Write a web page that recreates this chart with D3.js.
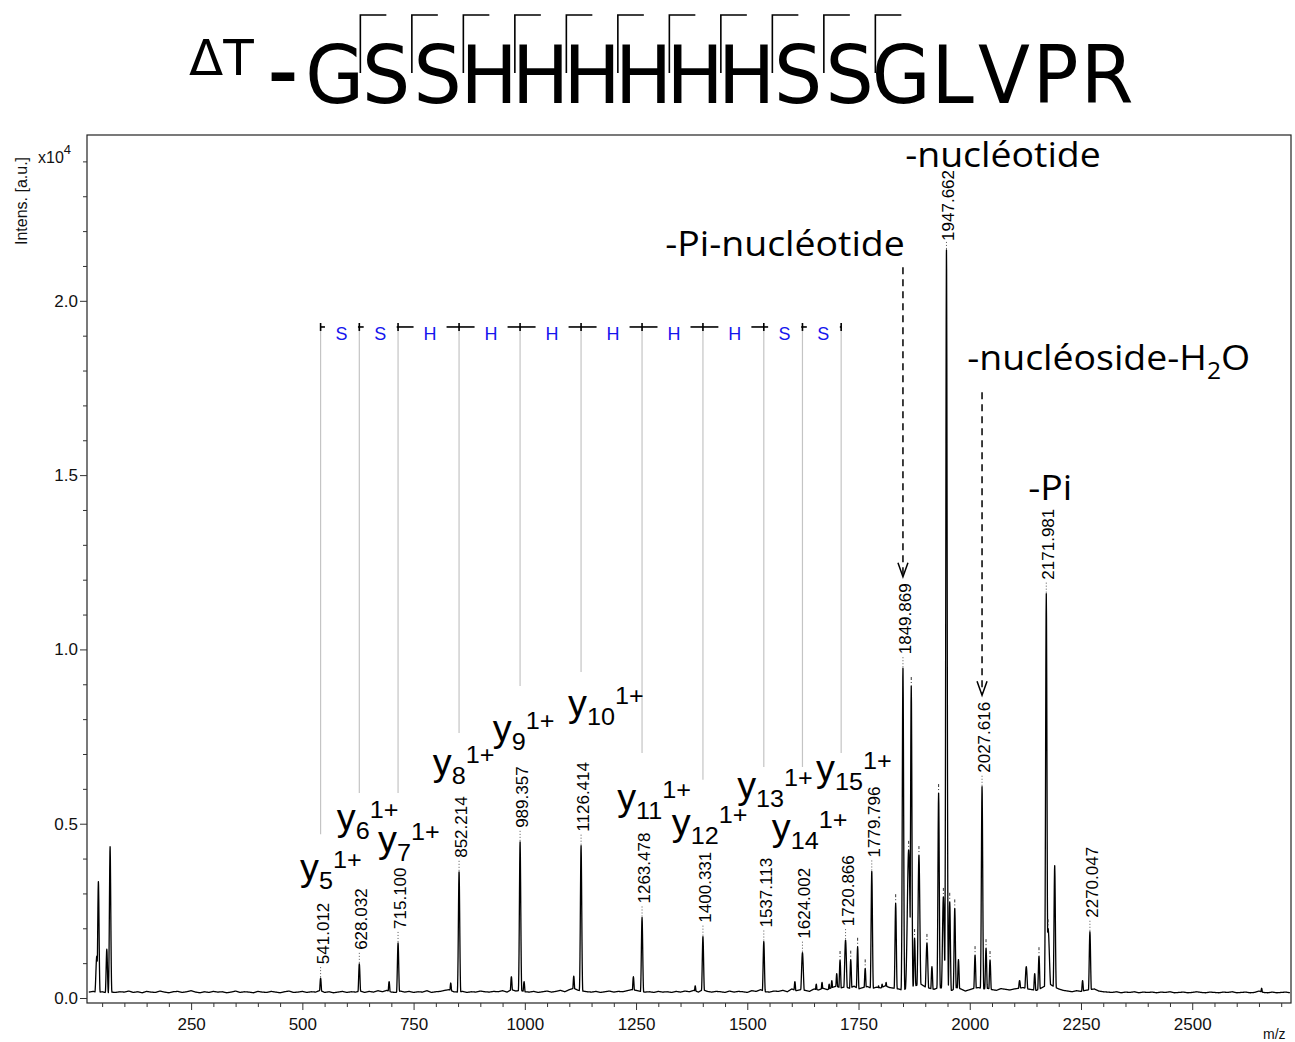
<!DOCTYPE html>
<html><head><meta charset="utf-8">
<script src="https://cdn.jsdelivr.net/npm/d3@7"></script>
<style>body{margin:0;background:#fff}svg{display:block}</style>
</head><body>
<svg id="chart" width="1295" height="1042"></svg>
<script>
// ---------------- DATA ----------------
const titleLetters = ["G","S","S","H","H","H","H","H","H","S","S","G","L","V","P","R"];
const titlePrefix = "\u0394T";
// peaks: [m/z, intensity (x10^4), optional width]
const peaks = [
  [38,0.12,2],[41.6,0.334],[60.5,0.14],[67.9,0.434],
  [541.012,0.057],[628.032,0.098],[695,0.047],[715.100,0.158],[833.5,0.043],[852.214,0.362],
  [969.8,0.061],[989.357,0.448],[998.3,0.047],[1110,0.063],[1126.414,0.437],[1244,0.061],
  [1263.478,0.231],[1383,0.035],[1400.331,0.176],[1537.113,0.162],[1607,0.047],[1624.002,0.13,2],
  [1655,0.04],[1668,0.045],[1684,0.04],[1690,0.05],[1701,0.07],[1708.5,0.109],[1720.866,0.166,2],
  [1732.5,0.11],[1748,0.147],[1765,0.085],[1779.796,0.363],[1795,0.035],[1803,0.04],[1812,0.045],
  [1833.5,0.272],[1849.869,0.946],[1862.7,0.425,3],[1868.5,0.895],[1876,0.172],[1885.8,0.41,2],
  [1903.8,0.158,2],[1915,0.09],[1930,0.588],[1940.7,0.29,2],[1947.662,2.146],[1955,0.276],
  [1966.3,0.257],[1974.6,0.11],[2011.9,0.123],[2027.616,0.606],[2036.6,0.143],[2045.6,0.109],
  [2112,0.05,2],[2127,0.09,2],[2146,0.07],[2155.6,0.12],[2171.981,1.16],[2176,0.2,3],[2190.9,0.38],
  [2253.6,0.05],[2270.047,0.19],[2656,0.028]
];
// baseline noise, x10^-3 (x10^4 a.u.), one value every 10 m/z starting at m/z 20
const baselineNoise = [
 17,19,16,18,15,17,16,18,17,20, 16,18,15,19,17,16,20,17,15,18, 19,16,18,21,17,15,18,16,19,17,
 18,15,17,20,16,18,17,15,19,17, 16,19,17,15,18,20,16,17,19,16, 18,17,22,16,18,15,17,19,16,18,
 17,20,16,19,17,21,18,22,17,16, 20,17,19,16,18,17,21,16,18,19, 22,24,18,17,19,16,18,17,20,18,
 17,19,18,21,17,24,20,22,18,17, 19,16,18,20,17,19,22,18,24,28, 22,20,18,17,19,16,18,20,17,19,
 18,21,24,22,19,17,18,16,19,17, 18,16,19,17,20,18,22,17,24,19, 17,19,18,16,20,17,19,18,16,21,
 19,24,18,17,20,19,22,18,26,21, 24,22,19,26,23,28,24,30,34,29, 32,28,34,26,30,33,27,31,29,35,
 30,28,26,22,30,34,36,40,32,28, 25,30,28,24,22,30,26,20,24,28, 30,26,28,24,22,27,25,23,26,28,
 30,26,24,22,28,35,40,32,26,22, 20,18,21,19,22,24,26,20,18,17, 16,18,15,17,16,18,15,17,16,17,
 15,17,16,18,15,16,17,15,16,18, 16,15,17,16,15,17,16,18,15,16, 17,15,16,20,16,15,17,15,16,17,15
];
const labeledMz = [541.012,628.032,715.100,852.214,989.357,1126.414,1263.478,1400.331,1537.113,
  1624.002,1720.866,1779.796,1849.869,1947.662,2027.616,2171.981,2270.047];
const pickedMarks = [1708.5,1732.5,1748,1765,1833.5,1862.7,1868.5,1876,1885.8,1903.8,1930,1940.7,
  1955,1966.3,2011.9,2036.6,2045.6,2155.6,2176];
// y-ion ladder
const ionNumbers = [5,6,7,8,9,10,11,12,13,14,15];
const ionMz = [541.012,628.032,715.100,852.214,989.357,1126.414,1263.478,1400.331,1537.113,1624.002,1711.0];
const residues = ["S","S","H","H","H","H","H","H","S","S"];
const ladderLevel = 1.925;
const guideEnd = [0.470,0.588,0.588,0.760,0.895,0.935,0.703,0.626,0.663,0.663,0.703];
const ionLabelMz = [494.9,577.4,670.3,793.2,928.1,1097.3,1207.5,1330.4,1477.2,1555.2,1654.7];
const ionLabelInt = [0.3385,0.4834,0.4188,0.6397,0.7372,0.809,0.539,0.4676,0.5737,0.4532,0.6225];
// loss annotations
const lossText = ["-nucl\u00e9otide","-Pi-nucl\u00e9otide","-nucl\u00e9oside-H","-Pi"];
const lossSub = ["","","2",""];
const lossTail = ["","","O",""];
const lossMz = [1854.8,1315.4,1994.2,2131.3];
const lossInt = [2.384,2.128,1.801,1.4286];
const lossArrowTo = [null,1849.869,2027.616,null];
// axes
const xMajor = [250,500,750,1000,1250,1500,1750,2000,2250,2500];
const yMajor = [0,0.5,1.0,1.5,2.0];

// ---------------- LAYOUT ----------------
const svg = d3.select("#chart");
const fL=87, fR=1291, fT=135, fB=1003;
const x = d3.scaleLinear().domain([16,2722]).range([fL,fR]);
const y = d3.scaleLinear().domain([-0.0143,2.4757]).range([fB,fT]);
const AX = "'Liberation Sans', Arial, sans-serif";
const ANN = "'Open Sans', 'Lato', sans-serif";

// title
const tg = svg.append("g");
const pitch = 51.5, c0 = 334.6, tBase = 103;
titleLetters.forEach((L,i)=>{
  tg.append("text").attr("transform",`translate(${c0+i*pitch},${tBase}) scale(0.95,1)`)
    .attr("text-anchor","middle").style("font-family","'DejaVu Sans'").style("font-size","80px").text(L);
});
for(let i=0;i<11;i++){
  const bx = c0+i*pitch+pitch/2;
  tg.append("path").attr("d",`M${bx},73V15H${bx+26}`).attr("fill","none").attr("stroke","#000").attr("stroke-width",1.6);
}
tg.append("text").attr("x",189).attr("y",75).style("font-family","'DejaVu Sans'").style("font-size","50px").text(titlePrefix);
tg.append("text").attr("transform","translate(283,95) scale(0.85,1)").attr("text-anchor","middle").style("font-family","'DejaVu Sans'")
  .style("font-weight","bold").style("font-size","68px").text("\u2013");

// clip
svg.append("clipPath").attr("id","clip").append("rect").attr("x",fL).attr("y",fT).attr("width",fR-fL).attr("height",fB-fT);

// spectrum profile
function baseAt(m){
  const t=(m-20)/10; let i=Math.floor(t); i=Math.max(0,Math.min(baselineNoise.length-2,i));
  const f=Math.max(0,Math.min(1,t-i));
  return (baselineNoise[i]*(1-f)+baselineNoise[i+1]*f)/1000;
}
const grid = d3.range(20,2720,0.5).concat(peaks.map(p=>p[0])).sort((a,b)=>a-b);
const prof = grid.map(m=>{
  let v = baseAt(m);
  for(const p of peaks){
    const s = p[2]||1.5, d=(m-p[0])/s;
    if(Math.abs(d)<5) v=Math.max(v,p[1]*Math.exp(-0.5*d*d));
  }
  return [m,v];
});
svg.append("path").datum(prof).attr("clip-path","url(#clip)")
  .attr("d",d3.line().x(d=>x(d[0])).y(d=>y(d[1])))
  .attr("fill","none").attr("stroke","#000").attr("stroke-width",1.3).attr("stroke-linejoin","round");

// frame
svg.append("rect").attr("x",fL).attr("y",fT).attr("width",fR-fL).attr("height",fB-fT)
  .attr("fill","none").attr("stroke","#222").attr("stroke-width",1.2);

// axes
const xMinor = d3.range(50,2701,50).filter(v=>v%250!==0);
const gx1 = svg.append("g").attr("transform",`translate(0,${fB})`)
  .call(d3.axisBottom(x).tickValues(xMinor).tickSize(4).tickFormat(""));
const gx2 = svg.append("g").attr("transform",`translate(0,${fB})`)
  .call(d3.axisBottom(x).tickValues(xMajor).tickSize(7).tickPadding(8).tickFormat(d3.format("d")));
const yMinor = d3.range(0.1,2.45,0.1).filter(v=>Math.abs(v*2-Math.round(v*2))>1e-6);
const gy1 = svg.append("g").attr("transform",`translate(${fL},0)`)
  .call(d3.axisLeft(y).tickValues(yMinor).tickSize(4).tickFormat(""));
const gy2 = svg.append("g").attr("transform",`translate(${fL},0)`)
  .call(d3.axisLeft(y).tickValues(yMajor).tickSize(7).tickPadding(2).tickFormat(d3.format(".1f")));
[gx1,gx2,gy1,gy2].forEach(g=>{
  g.select(".domain").remove();
  g.selectAll("line").attr("stroke","#333");
  g.selectAll("text").style("font-family",AX).style("font-size","17px").attr("fill","#111");
});
svg.append("text").attr("x",1263).attr("y",1039).style("font-family",AX).style("font-size","14px").attr("fill","#111").text("m/z");
const yl = svg.append("text").attr("x",38).attr("y",163).style("font-family",AX).style("font-size","16px").attr("fill","#111");
yl.append("tspan").text("x10");
yl.append("tspan").attr("dy",-9).style("font-size","13px").text("4");
svg.append("text").attr("transform","translate(27,245) rotate(-90)").style("font-family",AX).style("font-size","16px")
  .attr("fill","#111").text("Intens. [a.u.]");

// ladder
const lg = svg.append("g");
const ly = y(ladderLevel);
ionMz.forEach((m,i)=>{
  lg.append("line").attr("x1",x(m)).attr("x2",x(m)).attr("y1",ly).attr("y2",y(guideEnd[i]))
    .attr("stroke","#c4c4c4").attr("stroke-width",1.2);
});
residues.forEach((r,i)=>{
  const a=x(ionMz[i]), b=x(ionMz[i+1]), cx=(a+b)/2+1.5, gap=16.5;
  lg.append("line").attr("x1",a).attr("x2",cx-gap).attr("y1",ly).attr("y2",ly).attr("stroke","#000").attr("stroke-width",1.6);
  lg.append("line").attr("x1",cx+gap).attr("x2",b).attr("y1",ly).attr("y2",ly).attr("stroke","#000").attr("stroke-width",1.6);
  lg.append("text").attr("x",cx).attr("y",ly+13).attr("text-anchor","middle").style("font-family",AX)
    .style("font-size","18px").attr("fill","#1515ee").text(r);
});
ionMz.forEach(m=>{
  lg.append("line").attr("x1",x(m)).attr("x2",x(m)).attr("y1",ly-4).attr("y2",ly+4).attr("stroke","#000").attr("stroke-width",1.6);
});

// ion labels
ionNumbers.forEach((n,i)=>{
  const t = svg.append("text").attr("transform",`translate(${x(ionLabelMz[i])},${y(ionLabelInt[i])}) scale(1.05,1)`)
    .style("font-family",AX).style("font-size","36px").attr("fill","#000");
  t.append("tspan").text("y");
  t.append("tspan").attr("dy",9).style("font-size","24px").text(n);
  t.append("tspan").attr("dy",-21).style("font-size","24px").text("1+");
});

// peak labels
const pk = new Map(peaks.map(p=>[p[0],p[1]]));
labeledMz.forEach(m=>{
  const h = pk.get(m), px = x(m), top = y(h);
  const t = svg.append("text").style("font-family",AX).style("font-size","17px").attr("fill","#000")
    .attr("dy","0.35em").text(m.toFixed(3));
  const L = t.node().getComputedTextLength();
  let bottom = top-14;
  if(bottom-L<170) bottom = 170+L;
  t.attr("transform",`translate(${px+2},${bottom}) rotate(-90)`);
  if(top-bottom>4) svg.append("line").attr("x1",px).attr("x2",px).attr("y1",top-1).attr("y2",bottom+1)
    .attr("stroke","#555").attr("stroke-width",1).attr("stroke-dasharray","1,2");
});
pickedMarks.forEach(m=>{
  const h=pk.get(m), px=x(m), top=y(h);
  svg.append("line").attr("x1",px).attr("x2",px).attr("y1",top-9).attr("y2",top-3)
    .attr("stroke","#333").attr("stroke-width",1).attr("stroke-dasharray","3,2");
});

// loss annotations
const labelTopOf = m => { const h=pk.get(m); return y(h)-14-8*9.3-3; };
lossText.forEach((s,i)=>{
  const t = svg.append("text").attr("transform",`translate(${x(lossMz[i])},${y(lossInt[i])}) scale(1.07,1)`)
    .style("font-family",ANN).style("font-size","35px").attr("fill","#000");
  t.append("tspan").text(s);
  if(lossSub[i]){ t.append("tspan").attr("dy",9).style("font-size","23px").text(lossSub[i]);
                  t.append("tspan").attr("dy",-9).text(lossTail[i]); }
  if(lossArrowTo[i]!==null){
    const ax = x(lossArrowTo[i]);
    const tip = labelTopOf(lossArrowTo[i]);
    const y0 = y(lossInt[i]) + (lossSub[i]?22:11);
    svg.append("line").attr("x1",ax).attr("x2",ax).attr("y1",y0).attr("y2",tip-2)
      .attr("stroke","#000").attr("stroke-width",1.5).attr("stroke-dasharray","7,5");
    svg.append("path").attr("d",`M${ax-5},${tip-14}L${ax},${tip}L${ax+5},${tip-14}`)
      .attr("fill","none").attr("stroke","#000").attr("stroke-width",1.5);
  }
});
</script>
</body></html>
